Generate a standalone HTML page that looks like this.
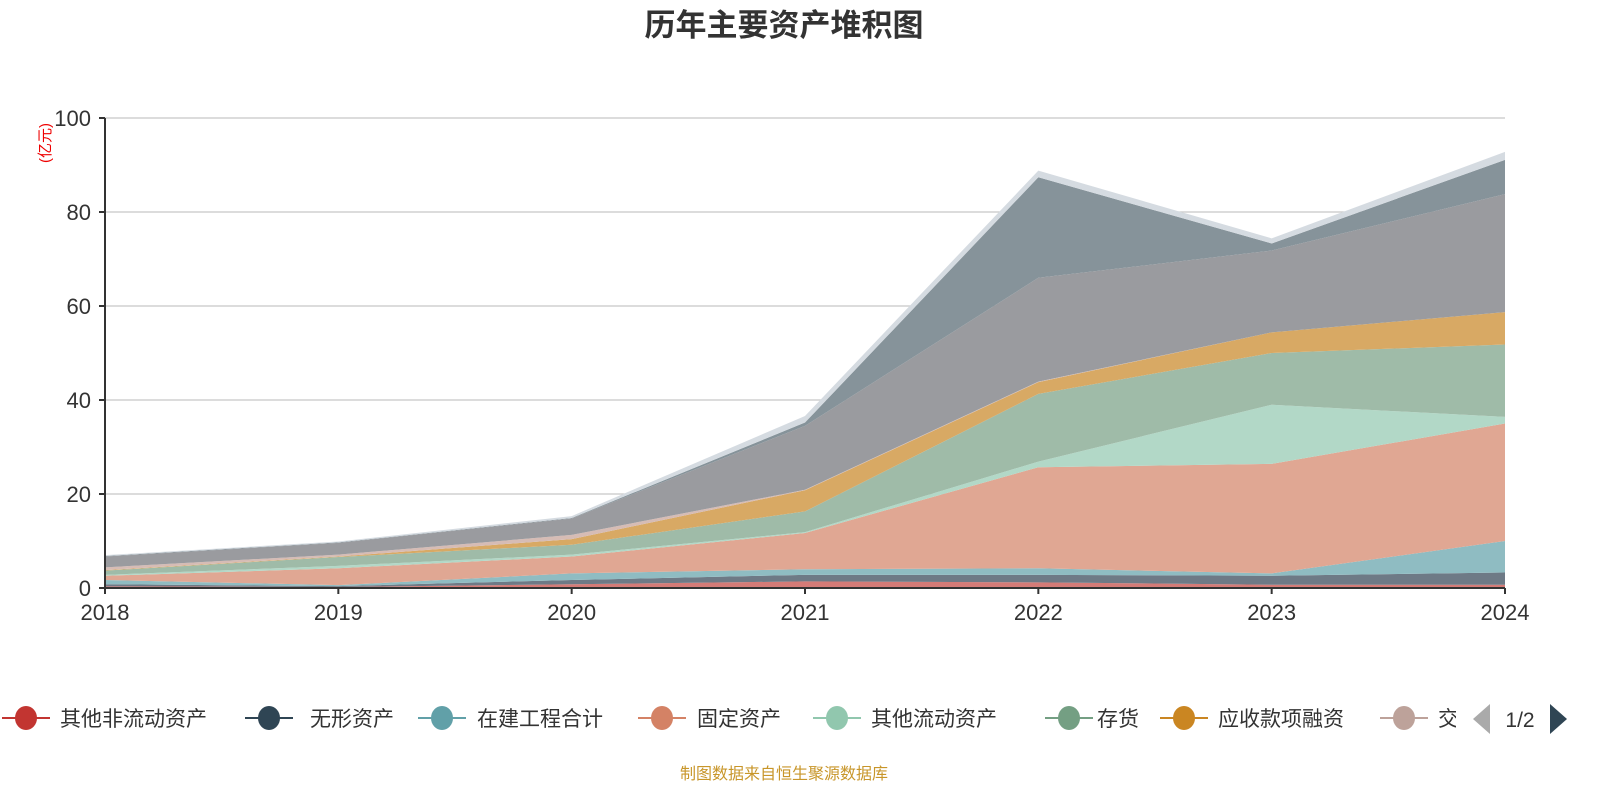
<!DOCTYPE html>
<html><head><meta charset="utf-8"><style>
body{margin:0;background:#fff;font-family:"Liberation Sans","Noto Sans CJK SC",sans-serif;}
svg text{font-family:"Liberation Sans","Noto Sans CJK SC",sans-serif;}
</style></head><body>
<svg id="chart" width="1600" height="800">
<defs><clipPath id="legclip"><rect x="0" y="690" width="1456" height="60"/></clipPath></defs>
<text x="784" y="36" text-anchor="middle" font-size="31" font-weight="bold" fill="#333">历年主要资产堆积图</text>
<text transform="translate(50,143) rotate(-90)" text-anchor="middle" font-size="15" fill="#e00">(亿元)</text>
<g id="grid"></g><g id="areas"></g><g id="axes"></g><g id="legend" clip-path="url(#legclip)"></g><g id="pager"></g>
<text x="784" y="779" text-anchor="middle" font-size="16" fill="#c8962a">制图数据来自恒生聚源数据库</text>
</svg>
<script>
const years=["2018","2019","2020","2021","2022","2023","2024"];
const yTicks=[0,20,40,60,80,100];
const sOtherNonCur=[0.35,0.2,0.8,1.4,1.2,0.7,0.7];
const sIntangible=[0.45,0.2,0.9,1.4,1.6,1.9,2.6];
const sConstruction=[0.9,0.2,1.4,1.2,1.4,0.5,6.7];
const sFixed=[0.9,3.6,3.6,7.7,21.5,23.3,25.0];
const sOtherCur=[0.2,0.5,0.4,0.2,1.2,12.6,1.4];
const sInventory=[0.9,1.9,2.1,4.4,14.4,11.0,15.4];
const sRecvFin=[0.1,0.1,1.2,4.5,2.5,4.4,6.9];
const sTrading=[0.6,0.4,0.9,0.1,0.1,0.0,0.0];
const sReceivable=[2.3,2.5,3.5,13.6,22.1,17.4,25.1];
const sCash=[0.1,0.1,0.1,0.7,21.4,1.5,7.3];
const sPrepay=[0.2,0.2,0.4,1.4,1.4,1.1,1.7];
const names=["其他非流动资产","无形资产","在建工程合计","固定资产","其他流动资产","存货","应收款项融资","交易性金融资产","应收账款","货币资金","预付款项"];
const series=[sOtherNonCur,sIntangible,sConstruction,sFixed,sOtherCur,sInventory,sRecvFin,sTrading,sReceivable,sCash,sPrepay];
const fills=["#d47b77","#6e7a86","#8fbcc2","#e0a793","#b2d8c7","#9fbba8","#d8a964","#d6bcb5","#9a9b9f","#86939a","#d5dbe1"];
const legendColors=["#c23531","#2f4554","#61a0a8","#d48265","#91c7ae","#749f83","#ca8622","#bda29a"];
const NS="http://www.w3.org/2000/svg";
const X0=105,X1=1505,Y0=588,Y1=118;
const xs=i=>X0+(X1-X0)*i/(years.length-1);
const ys=v=>Y0-(Y0-Y1)*v/100;
function mk(t,a,p){const e=document.createElementNS(NS,t);for(const k in a)e.setAttribute(k,a[k]);p.appendChild(e);return e;}
const grid=document.getElementById('grid'),axes=document.getElementById('axes'),areas=document.getElementById('areas'),leg=document.getElementById('legend'),pager=document.getElementById('pager');
yTicks.forEach(t=>{
 if(t>0){const l=mk('line',{x1:X0,x2:X1,y1:ys(t),y2:ys(t),stroke:'#c8c8c8','stroke-width':1.3},grid);
 
 }
 const tx=mk('text',{x:X0-14,y:ys(t)+8,'text-anchor':'end','font-size':22,fill:'#333'},axes);tx.textContent=t;
 
 
 mk('line',{x1:X0-6,x2:X0,y1:ys(t),y2:ys(t),stroke:'#333','stroke-width':2},axes);
});
mk('line',{x1:X0,x2:X0,y1:Y1,y2:Y0,stroke:'#333','stroke-width':2},axes);
mk('line',{x1:X0,x2:X1,y1:Y0,y2:Y0,stroke:'#333','stroke-width':2},axes);
years.forEach((y,i)=>{
 mk('line',{x1:xs(i),x2:xs(i),y1:Y0,y2:Y0+6,stroke:'#333','stroke-width':2},axes);
 const tx=mk('text',{x:xs(i),y:Y0+32,'text-anchor':'middle','font-size':22,fill:'#333'},axes);tx.textContent=y;
 
 
});
let base=years.map(()=>0);
series.forEach((s,k)=>{
 const top=base.map((b,i)=>b+s[i]);
 let d='M'+top.map((v,i)=>xs(i)+','+ys(v)).join(' L');
 for(let i=years.length-1;i>=0;i--)d+=' L'+xs(i)+','+ys(base[i]);
 const p=mk('path',{d:d+'Z',fill:fills[k]},areas);
 
 
 base=top;
});
const lx=[2,245,418,638,813,1045,1160,1380],tx=[60,310,477,697,871,1097,1218,1438];
for(let k=0;k<8;k++){
 const g=mk('g',{},leg);
 
 
 mk('line',{x1:lx[k],x2:lx[k]+48,y1:718,y2:718,stroke:legendColors[k],'stroke-width':2},g);
 mk('ellipse',{cx:lx[k]+24,cy:718,rx:11,ry:12,fill:legendColors[k]},g);
 const t=mk('text',{x:tx[k],y:726,'font-size':21,fill:'#333'},g);t.textContent=names[k];
}
const pl=mk('path',{d:'M1490,704 L1473,719 L1490,734Z',fill:'#aaa'},pager);


const pt=mk('text',{x:1520,y:727,'text-anchor':'middle','font-size':21,fill:'#333'},pager);pt.textContent='1/2';


const pn=mk('path',{d:'M1550,704 L1567,719 L1550,734Z',fill:'#2f4554'},pager);


</script>
</body></html>
